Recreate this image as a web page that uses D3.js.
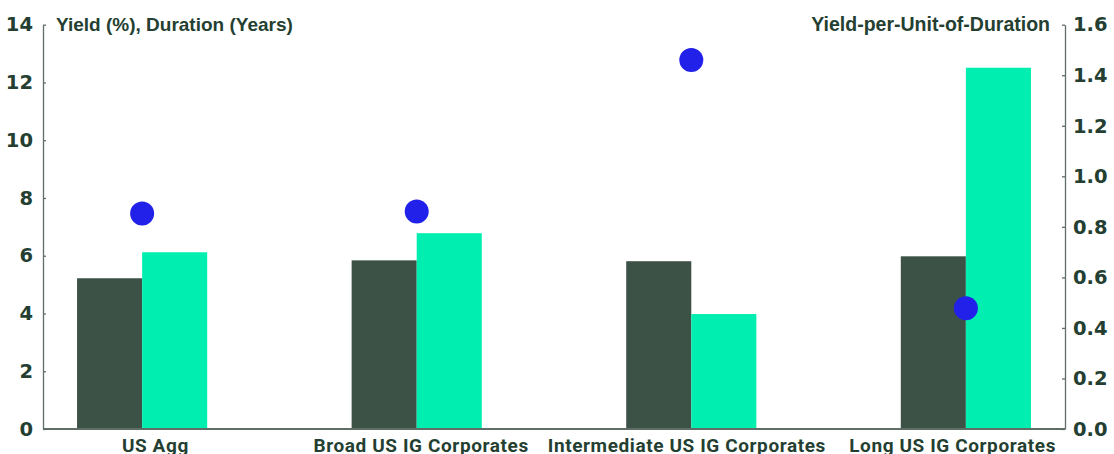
<!DOCTYPE html>
<html>
<head>
<meta charset="utf-8">
<script src="https://cdn.jsdelivr.net/npm/d3@7"></script>
<style>
  html, body { margin: 0; padding: 0; background: #ffffff; }
  svg { display: block; }
</style>
</head>
<body>
<svg id="chart" width="1114" height="454"></svg>
<script>
// Fixed-income segments: yield, duration and their ratio
const categories = ["US Agg", "Broad US IG Corporates", "Intermediate US IG Corporates", "Long US IG Corporates"];
const yieldPct = [5.22, 5.84, 5.81, 5.98];
const durationYears = [6.12, 6.78, 3.98, 12.51];
const yieldPerDuration = [0.853, 0.861, 1.46, 0.478];
const leftTicks = [0, 2, 4, 6, 8, 10, 12, 14];
const rightTicks = [0, 0.2, 0.4, 0.6, 0.8, 1.0, 1.2, 1.4, 1.6];
const leftTitle = "Yield (%), Duration (Years)";
const rightTitle = "Yield-per-Unit-of-Duration";

const colYield = "#3d5247";
const colDuration = "#00efb0";
const colDot = "#2121ea";
const colText = "#243f31";
const colAxis = "#5f6f65";

const svg = d3.select("#chart");
const x0 = 43, x1 = 1065, yTop = 24.7, yBot = 429;

const x = d3.scaleBand().domain(categories).range([x0, x1])
  .paddingInner(0.526).paddingOuter(0.124);
const xs = d3.scaleBand().domain(["yield", "duration"]).range([0, x.bandwidth()]);
// Category labels are spread evenly on their own point scale
const xLabel = d3.scalePoint().domain(categories).range([x0, x1]).padding(0.423);
const yL = d3.scaleLinear().domain([0, 14]).range([yBot, yTop]);
const yR = d3.scaleLinear().domain([0, 1.6]).range([yBot, yTop]);

// Bars
const groups = svg.append("g").selectAll("g").data(categories).join("g")
  .attr("transform", d => `translate(${x(d)},0)`);
groups.append("rect")
  .attr("x", xs("yield")).attr("width", xs.bandwidth())
  .attr("y", (d, i) => yL(yieldPct[i])).attr("height", (d, i) => yBot - yL(yieldPct[i]))
  .attr("fill", colYield);
groups.append("rect")
  .attr("x", xs("duration")).attr("width", xs.bandwidth())
  .attr("y", (d, i) => yL(durationYears[i])).attr("height", (d, i) => yBot - yL(durationYears[i]))
  .attr("fill", colDuration);

// Axes
const tickFont = "'DejaVu Sans', sans-serif";
const leftAxis = svg.append("g").attr("transform", `translate(${x0},0)`)
  .call(d3.axisLeft(yL).tickValues(leftTicks).tickFormat(d3.format("d")).tickSizeInner(-3).tickSizeOuter(0).tickPadding(10));
const rightAxis = svg.append("g").attr("transform", `translate(${x1},0)`)
  .call(d3.axisRight(yR).tickValues(rightTicks).tickFormat(d3.format(".1f")).tickSizeInner(-3).tickSizeOuter(0).tickPadding(8));
[leftAxis, rightAxis].forEach(a => {
  a.select(".domain").attr("stroke", colAxis).attr("stroke-width", 1.3);
  a.selectAll(".tick line").attr("stroke", colAxis).attr("stroke-width", 1.3);
  a.selectAll(".tick text").attr("fill", colText)
    .style("font-family", tickFont).style("font-weight", "bold").style("font-size", "19.5px");
});

// Baseline
svg.append("line").attr("x1", x0).attr("x2", x1).attr("y1", yBot).attr("y2", yBot)
  .attr("stroke", colAxis).attr("stroke-width", 2);

// Dots for yield per unit of duration
svg.append("g").selectAll("circle").data(categories).join("circle")
  .attr("cx", d => x(d) + x.bandwidth() / 2)
  .attr("cy", (d, i) => yR(yieldPerDuration[i]))
  .attr("r", 12)
  .attr("fill", colDot);

// Axis titles
const titleFont = "'Liberation Sans', Arial, sans-serif";
svg.append("text").attr("x", 56).attr("y", 31).text(leftTitle)
  .attr("fill", colText).style("font-family", titleFont).style("font-weight", "bold").style("font-size", "19px");
svg.append("text").attr("x", 1050).attr("y", 31).attr("text-anchor", "end").text(rightTitle)
  .attr("fill", colText).style("font-family", titleFont).style("font-weight", "bold").style("font-size", "19.5px");

// Category labels
svg.append("g").selectAll("text").data(categories).join("text")
  .attr("x", d => xLabel(d))
  .attr("y", 452)
  .attr("text-anchor", "middle")
  .attr("fill", colText)
  .style("font-family", "Roboto, sans-serif").style("font-weight", "bold").style("font-size", "19px")
  .style("letter-spacing", "0.6px")
  .text(d => d);
</script>
</body>
</html>
